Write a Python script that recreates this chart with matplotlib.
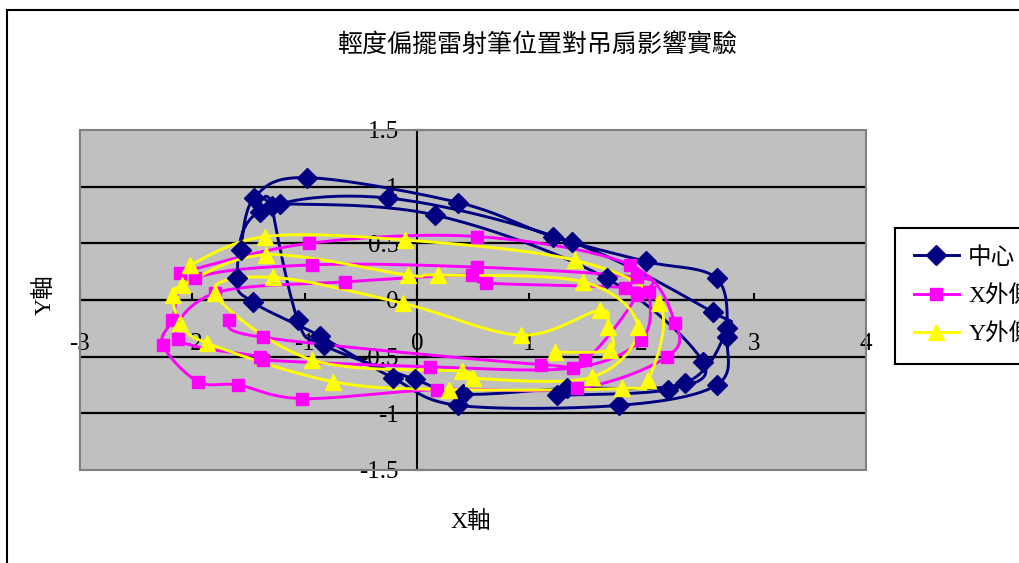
import numpy as np
import matplotlib
matplotlib.use("Agg")
import matplotlib.pyplot as plt
from matplotlib.patches import Rectangle

plt.rcParams["axes.unicode_minus"] = False

# Center trace (中心)
center_x = [-1.57, -1.45, -0.98, 0.37, 1.21, 2.04, 2.67, 2.76, 2.67, 1.80, 0.37, -0.21, -0.86, -1.46, -1.60,
            -1.40, -0.26, 1.38, 2.64, 2.76, 2.39, 1.34, 0.41, -0.02, -0.83, -1.06,
            -1.29, -1.22, 0.16, 1.69, 2.55, 2.24, 1.25]
center_y = [0.44, 0.90, 1.08, 0.86, 0.56, 0.34, 0.19, -0.33, -0.75, -0.93, -0.93, -0.69, -0.32, -0.02, 0.19,
            0.78, 0.90, 0.51, -0.11, -0.25, -0.73, -0.78, -0.83, -0.70, -0.40, -0.18,
            0.83, 0.85, 0.75, 0.19, -0.55, -0.79, -0.84]

# X outer trace (X外側)
xout_x = [-2.11, -0.96, 0.54, 1.90, 2.30, 2.23, 1.43, 0.18, -1.02, -1.59, -1.95, -2.26, -2.18,
          -1.98, -0.93, 0.54, 1.96, 2.07, 2.00, 1.39, 0.12, -1.37, -1.40, -2.13,
          -1.80, -0.64, 0.49, 0.62, 1.85, 1.96, 1.50, 1.11, -1.37, -1.67]
xout_y = [0.24, 0.50, 0.56, 0.31, -0.20, -0.50, -0.78, -0.79, -0.87, -0.75, -0.72, -0.40, -0.18,
          0.19, 0.31, 0.29, 0.20, 0.07, -0.35, -0.60, -0.59, -0.53, -0.50, -0.34,
          0.06, 0.16, 0.22, 0.15, 0.11, 0.04, -0.53, -0.57, -0.33, -0.18]

# Y outer trace (Y外側)
yout_x = [-2.02, -1.35, -0.11, 1.41, 2.16, 2.06, 1.83, 0.29, -0.75, -1.87, -2.11, -2.17, -2.09,
          -1.34, -0.08, 0.19, 1.48, 1.97, 1.56, 0.50, 0.40, -0.93, -1.80,
          -1.28, -0.12, 0.93, 1.63, 1.70, 1.72, 1.23]
yout_y = [0.31, 0.56, 0.53, 0.35, -0.03, -0.71, -0.78, -0.79, -0.72, -0.38, -0.20, 0.04, 0.13,
          0.40, 0.22, 0.22, 0.16, -0.24, -0.68, -0.69, -0.63, -0.53, 0.06,
          0.20, -0.03, -0.31, -0.09, -0.24, -0.44, -0.46]

series_names = ["中心", "X外側", "Y外側"]
x_ticks = [-3, -2, -1, 0, 1, 2, 3, 4]
y_ticks = [-1.5, -1, -0.5, 0, 0.5, 1, 1.5]

SERIF = ["Liberation Serif", "Noto Sans CJK TC"]
CJK = ["Noto Sans CJK TC", "DejaVu Sans"]


def smooth(xs, ys, steps=24):
    """Bezier smoothing through every point, like a spreadsheet's smoothed line."""
    pts = np.column_stack([xs, ys]).astype(float)
    padded = np.vstack([pts[0], pts, pts[-1]])
    t = np.linspace(0, 1, steps, endpoint=False)[:, None]
    parts = []
    for i in range(1, len(padded) - 2):
        p0, p1, p2, p3 = padded[i - 1], padded[i], padded[i + 1], padded[i + 2]
        c1 = p1 + (p2 - p0) / 6.0
        c2 = p2 - (p3 - p1) / 6.0
        parts.append((1 - t) ** 3 * p1 + 3 * (1 - t) ** 2 * t * c1
                     + 3 * (1 - t) * t ** 2 * c2 + t ** 3 * p2)
    parts.append(pts[-1:])
    curve = np.vstack(parts)
    return curve[:, 0], curve[:, 1]


fig = plt.figure(figsize=(10.19, 5.63), dpi=100)
W, H = 1019.0, 563.0
ax = fig.add_axes([80 / W, 93 / H, 786 / W, 340 / H])
ax.set_facecolor("#C0C0C0")

styles = [
    (center_x, center_y, "#000080", "D", 10),
    (xout_x, xout_y, "#FF00FF", "s", 9),
    (yout_x, yout_y, "#FFFF00", "^", 11),
]
handles = []
for (xs, ys, color, marker, ms), name in zip(styles, series_names):
    sx, sy = smooth(xs, ys)
    ax.plot(sx, sy, color=color, lw=2.1, zorder=3)
    ax.plot(xs, ys, ls="none", marker=marker, ms=ms, color=color, mec=color, zorder=4)
    h, = ax.plot([], [], color=color, lw=2.1, marker=marker, ms=ms, mec=color, label=name)
    handles.append(h)

ax.set_xlim(-3, 4)
ax.set_ylim(-1.5, 1.5)

# axes cross at the origin
ax.spines["left"].set_position(("data", 0))
ax.spines["bottom"].set_position(("data", 0))
ax.spines["top"].set_visible(False)
ax.spines["right"].set_visible(False)
for side in ["left", "bottom"]:
    ax.spines[side].set_linewidth(1.5)
    ax.spines[side].set_zorder(2.5)

ax.set_xticks(x_ticks)
ax.set_xticklabels([f"{v:g}" for v in x_ticks], fontfamily=SERIF, fontsize=18)
ax.set_yticks(y_ticks)
ax.set_yticklabels([f"{v:g}" for v in y_ticks], fontfamily=SERIF, fontsize=18)
ax.tick_params(axis="x", direction="in", length=5, width=1.5, pad=24)
ax.tick_params(axis="y", direction="in", length=6, width=1.5, pad=13)

ax.grid(axis="y", color="black", lw=1.6, zorder=1)
ax.set_axisbelow(True)
gl = ax.get_ygridlines()
gl[0].set_visible(False)
gl[-1].set_visible(False)

# grey border of the plot area
ax.add_patch(Rectangle((0, 0), 1, 1, transform=ax.transAxes, fill=False,
                       ec="#808080", lw=1.5, clip_on=False, zorder=5))

fig.text(537 / W, 1 - 45 / H, "輕度偏擺雷射筆位置對吊扇影響實驗",
         ha="center", va="center", fontsize=18, fontfamily=CJK)
fig.text(45 / W, 1 - 295 / H, "Y軸", rotation=90, ha="center", va="center",
         fontsize=17, fontfamily=SERIF)
fig.text(471 / W, 1 - 522 / H, "X軸", ha="center", va="center",
         fontsize=17, fontfamily=SERIF)

leg = fig.legend(handles=handles, loc="upper left", bbox_to_anchor=(895 / W, 1 - 228 / H),
                 prop={"family": SERIF, "size": 17}, frameon=True, fancybox=False,
                 edgecolor="black", framealpha=1, handlelength=1.9, borderpad=0.8,
                 labelspacing=0.7, handletextpad=0.4, borderaxespad=0)
leg.get_frame().set_linewidth(1.5)

# chart frame
fig.add_artist(Rectangle((7 / W, -0.05), 1.2, 1 - 10 / H + 0.05, transform=fig.transFigure,
                         fill=False, ec="black", lw=1.5))

fig.savefig("out.png", dpi=100)
